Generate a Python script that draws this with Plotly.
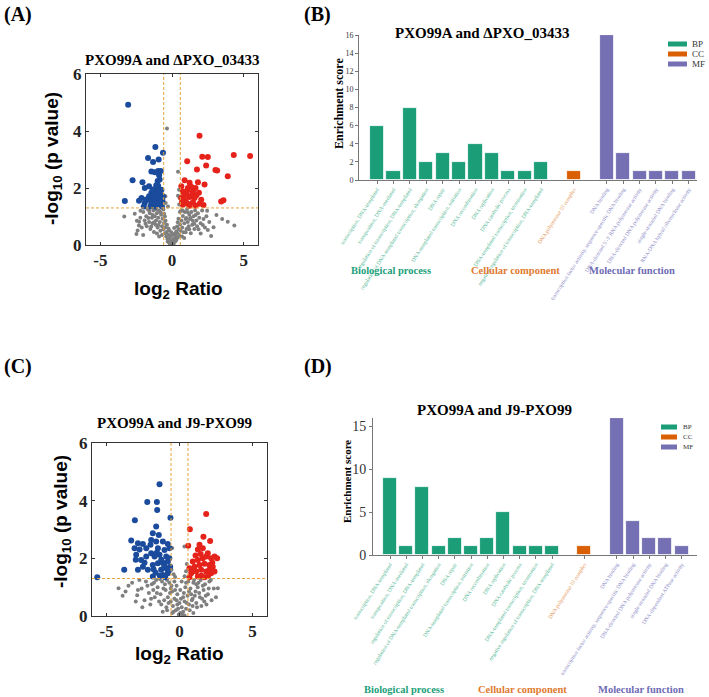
import plotly.graph_objects as go

W, H = 709, 697
SERIF = "Liberation Serif"
SANS = "Liberation Sans"


def fx(px):
    return px / W


def fy(py):
    return 1 - py / H


# ---------------- data: volcano (A) PXO99A vs dPXO_03433 ----------------
A_down = [(-3.06, 4.92), (-1.16, 3.44), (-0.63, 3.24), (-1.67, 3.05), (-0.93, 3.00), (-1.32, 2.91),
          (-2.75, 2.27), (-1.44, 2.58), (-0.97, 2.60), (-0.79, 2.60), (-2.06, 2.20), (-1.60, 2.06),
          (-3.29, 1.54), (-0.86, 2.30), (-0.97, 2.08), (-1.09, 1.94), (-0.74, 1.94), (-0.81, 1.77),
          (-1.20, 1.77), (-1.44, 1.83), (-1.90, 2.00), (-2.13, 1.65), (-1.67, 1.59), (-1.32, 1.59),
          (-0.97, 1.59), (-0.67, 1.57), (-1.90, 1.47), (-1.44, 1.45), (-1.09, 1.41), (-0.79, 1.41),
          (-1.97, 1.35), (-1.20, 1.35), (-1.60, 1.71), (-0.63, 1.71), (-1.10, 2.10), (-0.90, 1.90),
          (-1.00, 1.75), (-1.30, 1.70), (-0.75, 1.65), (-1.15, 1.50), (-0.85, 1.50), (-1.50, 1.35),
          (-0.70, 1.35), (-1.80, 1.60), (-2.30, 1.55), (-1.35, 1.95), (-1.00, 2.25), (-0.90, 2.45),
          (-1.20, 2.55)]
A_up = [(1.92, 3.83), (4.31, 3.16), (5.45, 3.12), (2.11, 3.10), (2.50, 3.09), (2.38, 2.79),
        (1.06, 2.94), (1.74, 2.65), (3.03, 2.63), (3.15, 2.61), (3.89, 2.41), (0.88, 2.27),
        (0.65, 2.06), (1.23, 2.18), (1.81, 2.20), (2.27, 2.12), (1.64, 2.00), (1.11, 2.00),
        (0.76, 1.88), (1.46, 1.88), (1.88, 1.83), (1.00, 1.77), (1.23, 1.68), (0.65, 1.65),
        (1.57, 1.65), (2.04, 1.59), (0.95, 1.57), (1.46, 1.50), (1.92, 1.45), (0.76, 1.41),
        (1.23, 1.38), (1.64, 1.38), (3.43, 1.53), (3.59, 1.57), (1.06, 1.91), (1.34, 2.04),
        (0.70, 1.50), (1.10, 1.45), (1.70, 1.75), (0.85, 1.75), (1.40, 1.78), (2.20, 1.40)]
A_ns = [(-0.35, 4.09), (0.42, 2.57), (0.53, 1.65), (0.49, 1.94), (-0.46, 1.71), (-0.44, 1.47),
        (0.42, 1.73), (-0.28, 1.35), (0.50, 1.42),
        (-3.33, 1.00), (-2.29, 0.82), (-2.31, 0.68), (-2.48, 0.39), (-2.01, 0.35), (3.50, 0.91),
        (3.89, 0.82), (4.35, 0.68), (2.73, 0.32), (2.50, 0.53),
        (0.02, 0.03), (0.08, 0.10), (-0.06, 0.14), (0.12, 0.05), (-0.12, 0.07), (0.16, 0.20),
        (-0.17, 0.24), (0.21, 0.12), (-0.22, 0.10), (0.26, 0.31), (-0.27, 0.36), (0.31, 0.18),
        (-0.31, 0.20), (0.36, 0.42), (-0.37, 0.46), (0.41, 0.26), (-0.40, 0.30), (0.46, 0.56),
        (-0.46, 0.62), (0.51, 0.35), (-0.51, 0.41), (0.56, 0.72), (-0.56, 0.77), (0.60, 0.50),
        (-0.61, 0.55), (0.66, 0.86), (-0.66, 0.92), (0.71, 0.61), (-0.70, 0.66), (0.76, 1.02),
        (-0.76, 1.06), (0.80, 0.45), (-0.81, 0.50), (0.86, 0.76), (-0.85, 0.81), (0.90, 1.16),
        (-0.91, 1.21), (0.95, 0.91), (-0.96, 0.96), (1.01, 0.56), (-1.00, 0.61), (1.05, 1.26),
        (-1.06, 1.11), (1.10, 0.81), (-1.11, 0.86), (1.16, 0.66), (-1.15, 0.71), (1.21, 1.06),
        (-1.20, 1.01), (1.25, 0.91), (-1.26, 0.46), (1.31, 0.41), (-1.30, 1.21), (1.35, 1.16),
        (-1.36, 0.76), (1.41, 0.71), (-1.40, 0.96), (1.50, 1.01), (-1.51, 0.56), (1.56, 0.56),
        (-1.55, 1.11), (1.61, 1.21), (-1.60, 0.81), (1.70, 0.86), (-1.71, 1.26), (1.75, 0.66),
        (-1.76, 0.66), (1.81, 1.11), (-1.80, 1.01), (1.90, 0.96), (-1.91, 0.86), (2.00, 0.76),
        (-2.00, 1.16), (2.10, 1.21), (-2.11, 0.61), (2.20, 0.91), (-2.21, 0.96), (2.30, 0.61),
        (-2.40, 0.51), (2.40, 1.01), (2.60, 0.81), (2.90, 0.62), (-2.60, 1.10), (3.10, 1.05),
        (2.00, 0.40), (-0.20, 0.52), (0.15, 0.60), (-0.10, 0.32), (0.30, 0.47), (0.05, 0.36),
        (-0.35, 0.71), (0.45, 0.92), (-0.50, 1.00), (0.55, 1.16), (-0.60, 1.25), (0.65, 1.22),
        (-0.15, 0.05), (0.20, 0.40), (-0.25, 0.58), (0.35, 0.65), (-0.45, 0.85), (0.70, 0.30),
        (-0.70, 0.35), (0.85, 0.25), (-0.90, 0.30), (1.00, 0.95), (-1.05, 0.40), (1.20, 0.55),
        (-1.25, 0.80), (1.45, 0.85), (-1.45, 0.65), (1.65, 1.05), (-1.65, 0.95), (0.10, 0.22),
        (-0.05, 0.45), (0.25, 0.15), (-0.30, 0.12), (0.40, 0.80), (-0.55, 1.10), (0.75, 1.20),
        (-0.80, 1.15), (0.95, 0.45), (-0.95, 0.70), (1.10, 1.15), (-1.10, 1.25), (1.30, 0.95),
        (-1.35, 1.05), (1.55, 0.75), (-1.60, 1.20), (1.85, 0.55), (-1.85, 0.75), (2.15, 0.70),
        (-2.20, 1.20), (2.45, 1.20), (-2.45, 0.85)]

# ---------------- data: volcano (C) PXO99A vs J9-PXO99 ----------------
C_down = [(-5.64, 1.34), (-3.79, 1.60), (-3.06, 3.32), (-3.31, 2.62), (-1.37, 4.57), (-2.21, 3.95),
          (-1.55, 3.95), (-1.53, 3.68), (-0.62, 3.41), (-1.60, 3.10), (-1.83, 2.87), (-1.42, 2.81),
          (-2.85, 2.52), (-2.51, 2.50), (-3.08, 2.35), (-2.74, 2.31), (-2.28, 2.35), (-1.94, 2.64),
          (-1.60, 2.58), (-1.14, 2.58), (-0.80, 2.50), (-1.48, 2.35), (-1.03, 2.29), (-0.68, 2.35),
          (-2.97, 2.12), (-2.63, 1.94), (-2.28, 2.06), (-1.94, 2.18), (-1.71, 2.06), (-1.37, 2.12),
          (-0.91, 2.06), (-2.85, 1.60), (-2.51, 1.71), (-2.17, 1.60), (-1.83, 1.77), (-1.48, 1.83),
          (-1.14, 1.85), (-0.80, 1.89), (-0.64, 1.71), (-1.26, 1.60), (-0.91, 1.66), (-1.64, 1.50),
          (-1.14, 1.42), (-0.80, 1.48), (-1.83, 1.37), (-0.98, 1.34), (-1.99, 2.47), (-1.78, 1.62),
          (-1.25, 1.95), (-1.05, 1.75), (-0.75, 1.55), (-1.35, 1.40), (-0.70, 2.00), (-1.55, 2.20),
          (-2.40, 1.85), (-3.00, 1.95)]
C_up = [(1.83, 3.54), (0.71, 3.01), (0.60, 2.44), (1.64, 2.75), (2.10, 2.60), (1.37, 2.47),
        (1.26, 2.31), (1.60, 2.35), (1.94, 2.18), (2.40, 2.06), (2.58, 2.00), (0.91, 1.89),
        (1.26, 1.94), (1.60, 2.00), (1.83, 2.06), (2.17, 2.00), (0.68, 1.66), (1.03, 1.71),
        (1.37, 1.77), (1.71, 1.81), (2.05, 1.77), (2.28, 1.71), (0.80, 1.48), (1.14, 1.54),
        (1.48, 1.60), (1.83, 1.54), (2.17, 1.48), (0.68, 1.34), (1.26, 1.37), (1.71, 1.34),
        (2.05, 1.60), (2.40, 1.54), (0.91, 1.60), (1.10, 2.10), (1.50, 1.40), (1.95, 1.38),
        (2.25, 1.85), (1.45, 2.15)]
C_ns = [(0.34, 2.41), (-0.50, 2.36), (-0.55, 1.60), (0.45, 1.55), (-0.40, 1.45), (0.50, 1.80),
        (-0.30, 1.35), (0.35, 1.38),
        (-4.18, 0.96), (-3.70, 0.85), (-3.25, 1.15), (-2.90, 0.72), (-3.50, 1.05), (-2.60, 0.95),
        (-2.30, 1.20), (-2.10, 0.80), (-2.75, 1.25), (-1.90, 1.10), (-1.70, 0.65), (-1.50, 1.00),
        (-1.30, 0.75), (-1.20, 1.20), (-1.05, 0.55), (-0.95, 0.90), (-0.85, 1.25), (-0.75, 0.45),
        (-0.65, 0.80), (-0.55, 1.05), (-0.45, 0.35), (-0.35, 0.60), (-0.25, 0.20), (-0.15, 0.40),
        (-0.05, 0.05), (0.05, 0.10), (0.15, 0.30), (0.25, 0.15), (0.35, 0.50), (0.45, 0.25),
        (0.55, 0.70), (0.65, 0.40), (0.75, 0.95), (0.85, 0.55), (0.95, 1.15), (1.05, 0.70),
        (1.15, 0.45), (1.25, 1.00), (1.35, 0.80), (1.45, 1.25), (1.55, 0.60), (1.65, 0.90),
        (1.75, 1.10), (1.85, 0.40), (1.95, 0.75), (2.05, 1.20), (2.20, 0.55), (2.35, 0.95),
        (2.63, 0.96), (2.50, 0.65), (-2.40, 0.55), (-2.00, 0.40), (-1.80, 0.90), (-1.60, 1.25),
        (-1.40, 0.50), (-1.10, 0.95), (-0.90, 0.30), (-0.80, 0.65), (-0.70, 1.15), (-0.60, 0.50),
        (-0.50, 0.85), (-0.40, 0.15), (-0.30, 0.90), (-0.20, 0.55), (-0.10, 0.25), (0.00, 0.45),
        (0.10, 0.60), (0.20, 0.05), (0.30, 0.80), (0.40, 1.00), (0.50, 0.45), (0.60, 1.20),
        (0.70, 0.20), (0.80, 0.75), (0.90, 0.35), (1.00, 1.25), (1.10, 0.85), (1.20, 0.30),
        (1.30, 1.15), (1.40, 0.65), (1.60, 1.05), (1.80, 0.70), (2.00, 0.95), (2.15, 1.25),
        (-3.00, 0.50), (-2.55, 0.30), (-2.20, 1.05), (-1.95, 0.60), (-1.75, 1.15), (-1.55, 0.80),
        (-1.25, 0.40), (-1.00, 1.10), (-0.85, 0.20), (-0.60, 0.95), (-0.35, 1.20), (-0.15, 0.75),
        (0.05, 0.90), (0.25, 0.65), (0.45, 1.15), (0.65, 0.85), (0.90, 0.60), (1.15, 1.10),
        (1.50, 0.35), (1.70, 0.50), (-1.35, 1.28), (-2.85, 0.90), (-3.90, 0.70), (-1.15, 0.15),
        (0.95, 0.10), (-0.50, 0.10), (0.35, 0.02), (-0.20, 1.05), (0.15, 1.20)]

FC_CUT = 0.58   # log2(1.5)
P_CUT = 1.3     # -log10(0.05)

# ---------------- data: GO enrichment (B) ----------------
B_BP_labels = ["transcription, DNA-templated", "transposition, DNA-mediated",
               "regulation of transcription, DNA-templated",
               "regulation of DNA-templated transcription, elongation", "DNA repair",
               "DNA-templated transcription, initiation", "DNA recombination", "DNA replication",
               "DNA catabolic process", "DNA-templated transcription, termination",
               "negative regulation of transcription, DNA-templated"]
B_BP_values = [6, 1, 8, 2, 3, 2, 4, 3, 1, 1, 2]
B_CC_labels = ["DNA polymerase III complex"]
B_CC_values = [1]
B_MF_labels = ["DNA binding", "transcription factor activity, sequence-specific DNA binding",
               "DNA-directed 5'-3' RNA polymerase activity", "DNA-directed DNA polymerase activity",
               "single-stranded DNA binding", "RNA-DNA hybrid ribonuclease activity"]
B_MF_values = [16, 3, 1, 1, 1, 1]

# ---------------- data: GO enrichment (D) ----------------
D_BP_labels = ["transcription, DNA-templated", "transposition, DNA-mediated",
               "regulation of transcription, DNA-templated",
               "regulation of DNA-templated transcription, elongation", "DNA repair",
               "DNA-templated transcription, initiation", "DNA recombination", "DNA replication",
               "DNA catabolic process", "DNA-templated transcription, termination",
               "negative regulation of transcription, DNA-templated"]
D_BP_values = [9, 1, 8, 1, 2, 1, 2, 5, 1, 1, 1]
D_CC_labels = ["DNA polymerase III complex"]
D_CC_values = [1]
D_MF_labels = ["DNA binding", "transcription factor activity, sequence-specific DNA binding",
               "DNA-directed DNA polymerase activity", "single-stranded DNA binding",
               "DNA-dependent ATPase activity"]
D_MF_values = [16, 4, 2, 2, 1]

GROUP_NAMES = ["BP", "CC", "MF"]
GROUP_TITLES = ["Biological process", "Cellular component", "Molecular function"]
BAR_COLORS = ["#1b9e77", "#d95f02", "#7570b3"]
TICK_COLORS = ["#55b896", "#e3914f", "#8c89c6"]
TITLE_COLORS = ["#22a07a", "#e07a30", "#6e6cb4"]

C_GRAY, C_BLUE, C_RED, C_DASH = "#7f7f7f", "#1a4b9c", "#e5231b", "#e6a43a"

fig = go.Figure()
shapes, annotations = [], []


def volcano(sfx, down, up, ns):
    for pts, col, size in [(ns, C_GRAY, 4), (down, C_BLUE, 6), (up, C_RED, 6)]:
        fig.add_trace(go.Scatter(x=[p[0] for p in pts], y=[p[1] for p in pts], mode="markers",
                                 marker=dict(color=col, size=size, line=dict(width=0)),
                                 xaxis="x" + sfx, yaxis="y" + sfx, showlegend=False,
                                 hoverinfo="x+y"))
    xr, yr = "x" + sfx, "y" + sfx
    for v in (-FC_CUT, FC_CUT):
        shapes.append(dict(type="line", xref=xr, yref=yr + " domain", x0=v, x1=v, y0=0, y1=1,
                           line=dict(color=C_DASH, width=1, dash="3px,2px")))
    shapes.append(dict(type="line", xref=xr + " domain", yref=yr, x0=0, x1=1, y0=P_CUT, y1=P_CUT,
                       line=dict(color=C_DASH, width=1, dash="3px,2px")))


def go_bars(sfx, groups):
    pos = 0
    tv, tt = [], []
    for gi, (labels, values) in enumerate(groups):
        xs = list(range(pos, pos + len(values)))
        fig.add_trace(go.Bar(x=xs, y=values, width=0.86, name=GROUP_NAMES[gi],
                             marker=dict(color=BAR_COLORS[gi], line=dict(color="white", width=0.8)),
                             xaxis="x" + sfx, yaxis="y" + sfx, showlegend=False))
        tv += xs
        tt += ['<span style="color:%s">%s</span>' % (TICK_COLORS[gi], l) for l in labels]
        pos += len(values) + 1
    return tv, tt


volcano("", A_down, A_up, A_ns)
volcano("3", C_down, C_up, C_ns)
tvB, ttB = go_bars("2", [(B_BP_labels, B_BP_values), (B_CC_labels, B_CC_values),
                         (B_MF_labels, B_MF_values)])
tvD, ttD = go_bars("4", [(D_BP_labels, D_BP_values), (D_CC_labels, D_CC_values),
                         (D_MF_labels, D_MF_values)])

COMMON = dict(showgrid=False, zeroline=False, automargin=False)


def vol_x(dom, anchor):
    return dict(domain=dom, anchor=anchor, range=[-6, 6], tickvals=[-5, 0, 5],
                ticktext=["-5", "0", "5"], showline=True, linecolor="#333", linewidth=1,
                mirror="ticks", ticks="inside", ticklen=3, tickcolor="#333",
                tickfont=dict(family=SERIF, size=17, color="#222", weight="bold"), **COMMON)


def vol_y(dom, anchor):
    return dict(domain=dom, anchor=anchor, range=[0, 6], tickvals=[0, 2, 4, 6],
                showline=True, linecolor="#333", linewidth=1, mirror="ticks", ticks="inside",
                ticklen=3, tickcolor="#333",
                tickfont=dict(family=SERIF, size=17, color="#222", weight="bold"), **COMMON)


fig.update_layout(
    width=W, height=H, margin=dict(l=0, r=0, t=0, b=0, pad=0, autoexpand=False),
    paper_bgcolor="white", plot_bgcolor="white", bargap=0, showlegend=False,
    xaxis=vol_x([fx(86), fx(258)], "y"),
    yaxis=vol_y([fy(245), fy(74)], "x"),
    xaxis3=vol_x([fx(92), fx(267)], "y3"),
    yaxis3=vol_y([fy(616), fy(443)], "x3"),
    xaxis2=dict(domain=[fx(359), fx(697)], anchor="y2", range=[-1.1, 19.5], tickvals=tvB,
                ticktext=ttB, tickangle=-57, tickfont=dict(family=SERIF, size=5.5),
                showline=True, linecolor="#777", linewidth=1, ticks="outside", ticklen=3,
                tickcolor="#777", **COMMON),
    yaxis2=dict(domain=[fy(180), fy(35)], anchor="x2", range=[0, 16], dtick=2,
                showline=True, linecolor="#777", linewidth=1, ticks="outside", ticklen=3,
                tickcolor="#777", tickfont=dict(family=SERIF, size=8, color="#333"), **COMMON),
    xaxis4=dict(domain=[fx(373), fx(697)], anchor="y4", range=[-1.05, 18.95], tickvals=tvD,
                ticktext=ttD, tickangle=-57, tickfont=dict(family=SERIF, size=5.5),
                showline=True, linecolor="#777", linewidth=1, ticks="outside", ticklen=3,
                tickcolor="#777", **COMMON),
    yaxis4=dict(domain=[fy(555), fy(418)], anchor="x4", range=[0, 16], tickvals=[0, 5, 10, 15],
                showline=True, linecolor="#777", linewidth=1, ticks="outside", ticklen=3,
                tickcolor="#777", tickfont=dict(family=SERIF, size=14, color="#333"), **COMMON),
)


def ann(text, x, y, size, family=SERIF, color="black", bold=True, angle=0, xanchor="center"):
    annotations.append(dict(text=text, x=fx(x), y=fy(y), xref="paper", yref="paper",
                            showarrow=False, xanchor=xanchor, yanchor="middle", textangle=angle,
                            font=dict(family=family, size=size, color=color,
                                      weight="bold" if bold else "normal")))


# panel letters
ann("(A)", 2, 15, 20, xanchor="left")
ann("(B)", 302, 15, 20, xanchor="left")
ann("(C)", 2, 367, 20, xanchor="left")
ann("(D)", 302, 367, 20, xanchor="left")

# titles
ann("PXO99A and ΔPXO_03433", 172, 60, 15)
ann("PXO99A and ΔPXO_03433", 482, 33, 15)
ann("PXO99A and J9-PXO99", 174, 423, 15)
ann("PXO99A and J9-PXO99", 494, 410, 15)

# volcano axis titles
ann("-log<sub>10</sub> (p value)", 53, 158, 19, family=SANS, angle=-90)
ann("log<sub>2</sub> Ratio", 178, 290, 19, family=SANS)
ann("-log<sub>10</sub> (p value)", 62, 522, 19, family=SANS, angle=-90)
ann("log<sub>2</sub> Ratio", 179, 655, 19, family=SANS)

# bar axis titles
ann("Enrichment score", 339, 104, 12, angle=-90)
ann("Enrichment score", 347, 482, 11, angle=-90)

# group titles
for i, (xb, xd) in enumerate(zip([391, 515, 632], [404, 522, 641])):
    ann(GROUP_TITLES[i], xb, 270, 10.5, color=TITLE_COLORS[i])
    ann(GROUP_TITLES[i], xd, 689, 10.5, color=TITLE_COLORS[i])

# legends
for i, name in enumerate(GROUP_NAMES):
    yB = 44 + i * 10
    shapes.append(dict(type="rect", xref="paper", yref="paper", x0=fx(668), x1=fx(687),
                       y0=fy(yB + 2.5), y1=fy(yB - 2.5), fillcolor=BAR_COLORS[i], line=dict(width=0)))
    ann(name, 690, yB, 9, bold=False, color="#333", xanchor="left")
    yD = 427 + i * 10
    shapes.append(dict(type="rect", xref="paper", yref="paper", x0=fx(661), x1=fx(677),
                       y0=fy(yD + 2.5), y1=fy(yD - 2.5), fillcolor=BAR_COLORS[i], line=dict(width=0)))
    ann(name, 681, yD, 7, bold=False, color="#333", xanchor="left")

fig.update_layout(shapes=shapes, annotations=annotations)
fig.write_html("out.html")
